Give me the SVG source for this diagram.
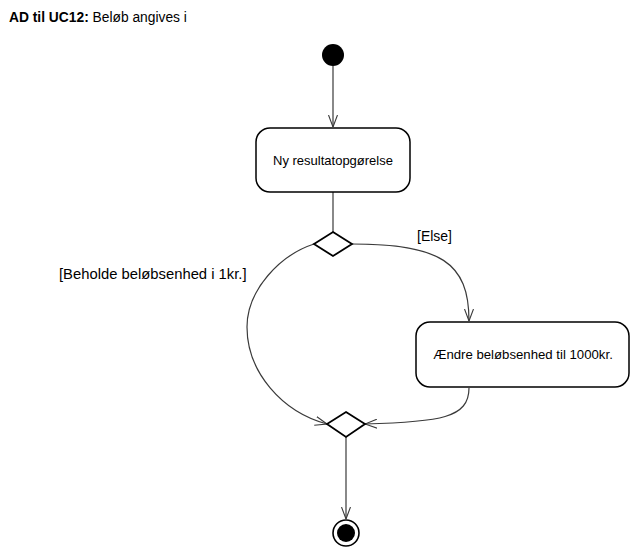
<svg xmlns="http://www.w3.org/2000/svg" width="631" height="549" viewBox="0 0 631 549">
<defs>
<style>
text{font-family:"Liberation Sans",Arial,sans-serif;fill:#000}
.box{fill:#fff;stroke:#000;stroke-width:1.5}
.dia{fill:#fff;stroke:#000;stroke-width:1.8}
.edge{fill:none;stroke:#3a3a3a;stroke-width:1.2}
</style>
<marker id="arr" viewBox="0 0 12 10" refX="12" refY="5" markerWidth="12" markerHeight="10" markerUnits="userSpaceOnUse" orient="auto">
<path d="M0,0.5 L12,5 L0,9.5" fill="none" stroke="#3a3a3a" stroke-width="1.1"/>
</marker>
</defs>
<rect width="631" height="549" fill="#fff"/>
<text x="9" y="22" font-size="13.8"><tspan font-weight="bold">AD til UC12:</tspan> Beløb angives i</text>
<g id="connectors">
<path class="edge" d="M333,66 L333,127" marker-end="url(#arr)"/>
<path class="edge" d="M333,192 L333,232"/>
<path class="edge" d="M352,244 C440,244 469,262 469,321" marker-end="url(#arr)"/>
<path class="edge" d="M314,244 C280,255 247,290 247,327 C247,372 282,412 327,424" marker-end="url(#arr)"/>
<path class="edge" d="M469,388 C469,418 440,422 365,424" marker-end="url(#arr)"/>
<path class="edge" d="M346,437 L346,519" marker-end="url(#arr)"/>
</g>
<g id="start"><circle cx="333" cy="55" r="11" fill="#000"/></g>
<g id="n1">
<rect class="box" x="256" y="128" width="154" height="64" rx="14"/>
<text x="333" y="165" font-size="13" text-anchor="middle">Ny resultatopgørelse</text>
</g>
<g id="decision"><polygon class="dia" points="333,232 352,244 333,256 314,244"/></g>
<g id="lblElse"><text x="417" y="241" font-size="14">[Else]</text></g>
<g id="lblBeholde"><text x="59" y="279" font-size="14.8">[Beholde beløbsenhed i 1kr.]</text></g>
<g id="n2">
<rect class="box" x="416" y="322" width="213" height="65" rx="14"/>
<text x="523" y="359" font-size="13.2" text-anchor="middle">Ændre beløbsenhed til 1000kr.</text>
</g>
<g id="merge"><polygon class="dia" points="346,412 365,424 346,437 327,424"/></g>
<g id="end">
<circle cx="346" cy="533" r="13" fill="#fff" stroke="#000" stroke-width="1.6"/>
<circle cx="346" cy="533" r="9" fill="#000"/>
</g>
</svg>
